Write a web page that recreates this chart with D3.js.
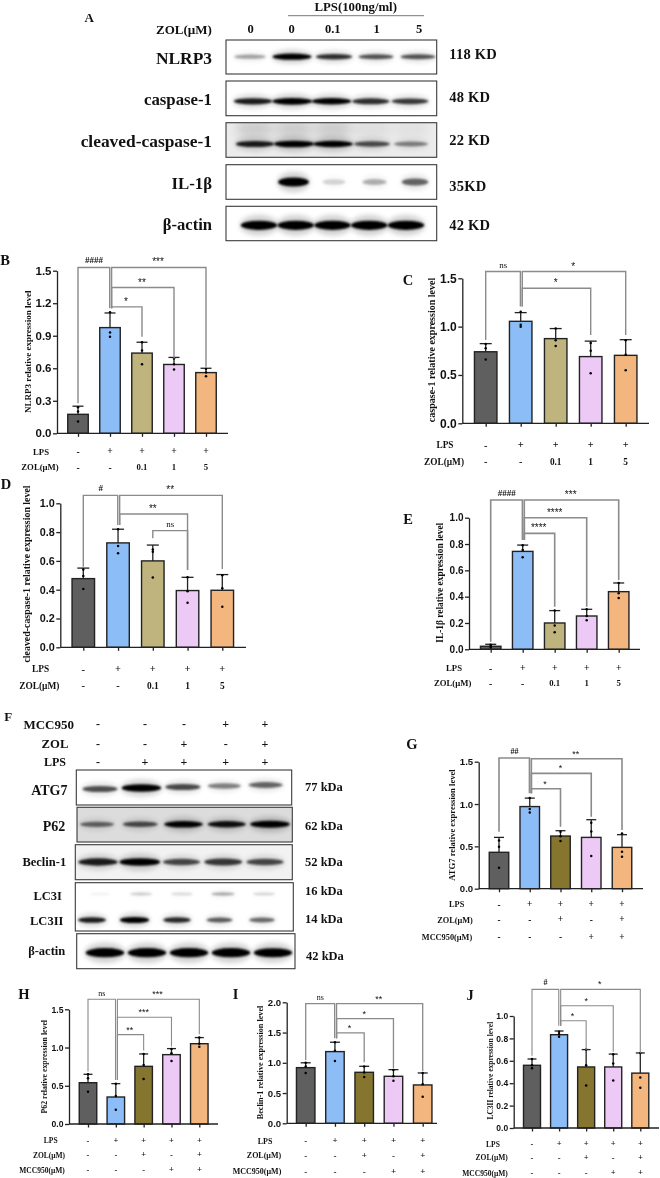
<!DOCTYPE html>
<html><head><meta charset="utf-8">
<script src="https://cdnjs.cloudflare.com/ajax/libs/d3/7.8.5/d3.min.js"></script>
<style>
html,body{margin:0;padding:0;background:#fff}
svg{display:block;filter:blur(0.35px)}
text{fill:#111}
</style></head><body><div id="c"></div>
<script>
// ---------- DATA ----------
const barColorsA = ["#5f5f5f","#8dbdf6","#bfb47d","#edc9f6","#f2b67e"];
const barColorsB = ["#5f5f5f","#8dbdf6","#85752f","#edc9f6","#f2b67e"];
const lpsSigns = ["-","+","+","+","+"];
const zolDoses = ["-","-","0.1","1","5"];
const zolSigns = ["-","-","+","-","+"];
const mccSigns = ["-","-","-","+","+"];

const bMeans=[.175,.975,.74,.635,.56], bTops=[.25,1.11,.84,.70,.60];
const bDots=[[.108,.2,.24],[.89,.93,1.117],[.637,.763,.84],[.588,.637,.69],[.526,.56,.594]];
const bBrackets=[[1,4,1.53,1.154,.615,"***"],[1,3,1.345,1.154,.69,"**"],[1,2,1.166,1.154,.89,"*"],[0,1,1.53,.277,1.154,"####"]];
const cMeans=[.74,1.055,.876,.69,.703], cTops=[.824,1.145,.98,.85,.865];
const cDots=[[.66,.776,.82],[1.0,1.02,1.155],[.80,.86,.98],[.517,.75,.83],[.55,.71,.86]];
const cBrackets=[[1,4,1.57,1.207,.914,"*"],[1,3,1.397,1.207,.914,"*"],[0,1,1.57,.862,1.207,"ns"]];
const dMeans=[.477,.725,.60,.394,.396], dTops=[.55,.82,.71,.486,.505];
const dDots=[[.405,.495,.54],[.653,.704,.82],[.484,.664,.68],[.31,.39,.486],[.282,.41,.5]];
const dBrackets=[[1,4,1.055,.85,.544,"**"],[1,3,.926,.85,.537,"**"],[2,3,.81,.757,.537,"ns"],[0,1,1.055,.56,.85,"#"]];
const eMeans=[.023,.744,.2,.253,.438], eTops=[.038,.792,.294,.304,.504];
const eDots=[[.013,.025,.035],[.70,.754,.79],[.13,.18,.294],[.22,.253,.304],[.39,.425,.504]];
const eBrackets=[[1,4,1.134,.83,.527,"***"],[1,3,1.0,.83,.324,"****"],[1,2,.881,.83,.324,"****"],[0,1,1.134,.058,.83,"####"]];
const gMeans=[.43,.97,.622,.606,.488], gTops=[.606,1.07,.685,.815,.638];
const gDots=[[.248,.496,.57],[.90,.94,1.07],[.563,.62,.673],[.386,.677,.78],[.378,.437,.653]];
const gBrackets=[[1,4,1.535,1.126,.693,"**"],[1,3,1.362,1.126,.85,"*"],[1,2,1.181,1.126,.732,"*"],[0,1,1.543,.673,1.126,"##"]];
const hMeans=[.54,.353,.754,.907,1.05], hTops=[.65,.528,.916,.986,1.13];
const hDots=[[.423,.597,.65],[.187,.366,.528],[.589,.772,.916],[.824,.925,.98],[1.01,1.05,1.13]];
const hBrackets=[[1,4,1.631,.576,1.173,"***"],[1,3,1.396,.576,1.012,"***"],[1,2,1.169,.576,.96,"**"],[0,1,1.631,.685,.576,"ns"]];
const iMeans=[.92,1.185,.843,.777,.634], iTops=[1.0,1.34,.942,.887,.832];
const iDots=[[.83,.937,1.0],[1.03,1.2,1.34],[.766,.84,.94],[.705,.777,.88],[.44,.645,.83]];
const iBrackets=[[1,4,1.978,1.405,.865,"**"],[1,3,1.73,1.405,.909,"*"],[1,2,1.493,1.405,1.008,"*"],[0,1,1.978,1.047,1.405,"ns"]];
const jMeans=[.56,.833,.545,.545,.49], jTops=[.616,.866,.70,.66,.67];
const jDots=[[.533,.56,.616],[.815,.836,.86],[.38,.56,.70],[.425,.577,.658],[.36,.45,.67]];
const jBrackets=[[1,4,1.238,.914,.667,"*"],[1,3,1.092,.914,.68,"*"],[1,2,.958,.914,.696,"*"],[0,1,1.238,.646,.914,"#"]];

// blot band intensities (0-1), lane by lane
const nlrp3Bands=[.3,.95,.72,.58,.58], caspBands=[.8,.95,.9,.72,.68], cleavedBands=[.8,.95,.92,.6,.4], cleavedUpper=[.16,.16,.16,.07,.05];
const il1bBands=[0,1,.14,.26,.52], actinBandsA=[1,1,1,1,1];
const atg7Bands=[.6,1,.62,.42,.52], p62Bands=[.5,.6,.92,.85,1], beclinBands=[.8,.92,.62,.68,.62];
const lc3iBands=[.04,.16,.12,.3,.14], lc3iiBands=[.8,.95,.75,.55,.5], actinBandsF=[1,1,1,1,.98];

const ticks15=[0,.3,.6,.9,1.2,1.5], ticks05=[0,.5,1,1.5], ticks02=[0,.2,.4,.6,.8,1], ticks2=[0,.5,1,1.5,2];

// ---------- LAYOUT ----------
const SERIF="'Liberation Serif','Times New Roman',serif", SANS="'Liberation Sans',Arial,sans-serif";
const svg=d3.select("#c").append("svg").attr("width",660).attr("height",1178).attr("viewBox","0 0 660 1178");
svg.append("rect").attr("width",660).attr("height",1178).attr("fill","#fff");
const defs=svg.append("defs");
[["b1",1.1],["b2",2.6],["b3",6]].forEach(([id,s])=>defs.append("filter").attr("id",id).attr("x","-30%").attr("y","-200%").attr("width","160%").attr("height","500%")
  .append("feGaussianBlur").attr("stdDeviation",s));

function txt(g,x,y,s,size,opt={}){
  return g.append("text").attr("x",x).attr("y",y).text(s)
    .attr("font-family",opt.sans?SANS:SERIF).attr("font-weight",opt.normal?400:700).attr("font-size",size)
    .attr("text-anchor",opt.anchor||"middle").attr("dominant-baseline",opt.base||"central")
    .attr("fill",opt.fill||"#111").attr("letter-spacing",opt.ls||null);
}

// ---------- BAR PANELS ----------
function barPanel(p){
  const g=svg.append("g");
  const lanes=d3.range(5);
  const x=d3.scalePoint().domain(lanes).range([p.x0,p.x4]);
  const y=d3.scaleLinear().domain([0,p.yMax]).range([p.y0,p.yTop]);
  lanes.forEach(i=>{
    g.append("rect").attr("x",x(i)-p.bw/2).attr("width",p.bw).attr("y",y(p.means[i])).attr("height",y(0)-y(p.means[i]))
      .attr("fill",p.colors[i]).attr("stroke","#222").attr("stroke-width",1.4);
    g.append("line").attr("x1",x(i)).attr("x2",x(i)).attr("y1",y(p.means[i])).attr("y2",y(p.tops[i])).attr("stroke","#222").attr("stroke-width",1.3);
    g.append("line").attr("x1",x(i)-p.cap).attr("x2",x(i)+p.cap).attr("y1",y(p.tops[i])).attr("y2",y(p.tops[i])).attr("stroke","#222").attr("stroke-width",1.3);
    p.dots[i].forEach(v=>g.append("circle").attr("cx",x(i)).attr("cy",y(v)).attr("r",1.25).attr("fill","#000"));
  });
  // significance brackets
  p.brackets.forEach(([a,b,lv,ea,eb,lab])=>{
    const xa=x(a)+(a===1?1.6:0), xb=x(b)-(b===1?.3:0);
    g.append("path").attr("fill","none").attr("stroke","#8b8b8b").attr("stroke-width",p.bs||1.4)
      .attr("d",d3.line()([[xa,y(ea)],[xa,y(lv)],[xb,y(lv)],[xb,y(eb)]]));
    const star=lab[0]==="*";
    const gap=star?2:(lab==="ns"?3.5:4.5);
    txt(g,(x(a)+x(b))/2,y(lv)-gap,lab,star?p.sig+1:p.sig,{base:"alphabetic",fill:"#666",sans:star,normal:lab==="ns"||star});
  });
  // axes
  const ya=d3.axisLeft(y).tickValues(p.ticks).tickFormat(d3.format(".1f")).tickSize(4).tickSizeOuter(0);
  const yg=g.append("g").attr("transform",`translate(${p.ax},0)`).call(ya);
  const xa=d3.axisBottom(x).tickFormat("").tickSize(3.5).tickSizeOuter(0);
  const xg=g.append("g").attr("transform",`translate(0,${p.y0})`).call(xa);
  xg.select(".domain").attr("d",`M${p.ax},0H${p.xEnd}`);
  [yg,xg].forEach(a=>{a.selectAll("path,line").attr("stroke","#222").attr("stroke-width",1.3);});
  yg.selectAll("text").attr("font-family",SANS).attr("font-weight",700).attr("font-size",p.tick).attr("fill","#1a1a1a").attr("x",-5.5);
  // y title
  g.append("text").attr("transform",`translate(${p.titleX},${p.titleY}) rotate(-90)`).text(p.title)
    .attr("font-family",SERIF).attr("font-weight",700).attr("font-size",p.titleSize).attr("text-anchor","middle").attr("dominant-baseline","central").attr("fill","#222");
  // treatment rows
  p.rows.forEach(r=>{
    txt(g,r.lx,r.y,r.label,p.rowSize);
    r.signs.forEach((s,i)=>txt(g,x(i),r.y-(s==="+"?.8:0),s,p.rowSize+(s==="+"||s==="-"?1:0),{anchor:"middle"}));
  });
  txt(g,p.letter[0],p.letter[1],p.letter[2],14.5);
}

const panelB={means:bMeans,tops:bTops,dots:bDots,brackets:bBrackets,colors:barColorsA,ticks:ticks15,yMax:1.5,x0:78,x4:206,ax:57,xEnd:228,y0:433.3,yTop:270.7,bw:20.5,cap:5.5,tick:11.5,sig:9,
 title:"NLRP3 relative expression level",titleX:28,titleY:351.7,titleSize:9,rowSize:8.7,letter:[5,260,"B"],
 rows:[{label:"LPS",lx:41,y:451.7,signs:lpsSigns},{label:"ZOL(µM)",lx:40,y:467,signs:zolDoses}]};
const panelC={means:cMeans,tops:cTops,dots:cDots,brackets:cBrackets,colors:barColorsA,ticks:ticks05,yMax:1.5,x0:485.7,x4:625.7,ax:462.3,xEnd:649,y0:423.3,yTop:278.3,bw:22.5,cap:6,tick:12,sig:9,
 title:"caspase-1 relative expression level",titleX:431.7,titleY:350,titleSize:10,rowSize:9.3,letter:[408,280,"C"],
 rows:[{label:"LPS",lx:445,y:445,signs:lpsSigns},{label:"ZOL(µM)",lx:444,y:461.7,signs:zolDoses}]};
const panelD={means:dMeans,tops:dTops,dots:dDots,brackets:dBrackets,colors:barColorsA,ticks:ticks02,yMax:1,x0:83.3,x4:222.3,ax:60.3,xEnd:246,y0:647.3,yTop:503.3,bw:22.5,cap:6,tick:10.8,sig:9,
 title:"cleaved-caspase-1 relative expression level",titleX:26.7,titleY:574,titleSize:9.9,rowSize:9.4,letter:[6,484,"D"],
 rows:[{label:"LPS",lx:40.7,y:669,signs:lpsSigns},{label:"ZOL(µM)",lx:39.3,y:685.7,signs:zolDoses}]};
const panelE={means:eMeans,tops:eTops,dots:eDots,brackets:eBrackets,colors:barColorsA,ticks:ticks02,yMax:1,x0:490.7,x4:618.7,ax:469,xEnd:640,y0:649.3,yTop:517.7,bw:20.5,cap:5.5,tick:10,sig:9,bs:1.6,
 title:"IL-1β relative expression level",titleX:440,titleY:582.8,titleSize:9.4,rowSize:8.7,letter:[408,519,"E"],
 rows:[{label:"LPS",lx:454,y:668,signs:lpsSigns},{label:"ZOL(µM)",lx:452.7,y:683,signs:zolDoses}]};
const panelG={means:gMeans,tops:gTops,dots:gDots,brackets:gBrackets,colors:barColorsB,ticks:ticks05,yMax:1.5,x0:499,x4:622,ax:478.7,xEnd:643,y0:888.7,yTop:761.7,bw:19.5,cap:5,tick:9.6,sig:8,bs:1.6,
 title:"ATG7 relative expression level",titleX:451.7,titleY:825,titleSize:8.6,rowSize:8.3,letter:[412,744,"G"],
 rows:[{label:"LPS",lx:456.7,y:904.7,signs:lpsSigns},{label:"ZOL(µM)",lx:455,y:920,signs:zolSigns},{label:"MCC950(µM)",lx:447,y:937.3,signs:mccSigns}]};
const panelH={means:hMeans,tops:hTops,dots:hDots,brackets:hBrackets,colors:barColorsB,ticks:ticks05,yMax:1.5,x0:88,x4:199.3,ax:69,xEnd:218,y0:1124,yTop:1009.3,bw:17.5,cap:4.5,tick:8.6,sig:8,bs:1.1,
 title:"P62 relative expression level",titleX:44.3,titleY:1066.7,titleSize:7.8,rowSize:7.5,letter:[24,994,"H"],
 rows:[{label:"LPS",lx:50.7,y:1140.7,signs:lpsSigns},{label:"ZOL(µM)",lx:49,y:1155,signs:zolSigns},{label:"MCC950(µM)",lx:42,y:1170,signs:mccSigns}]};
const panelI={means:iMeans,tops:iTops,dots:iDots,brackets:iBrackets,colors:barColorsB,ticks:ticks2,yMax:2,x0:305.7,x4:422.7,ax:286.7,xEnd:437,y0:1123.3,yTop:1002.3,bw:18.5,cap:5,tick:9.6,sig:8,bs:1.3,
 title:"Beclin-1 relative expression level",titleX:260,titleY:1062.5,titleSize:8.2,rowSize:8,letter:[235.7,994,"I"],
 rows:[{label:"LPS",lx:265,y:1141,signs:lpsSigns},{label:"ZOL(µM)",lx:264,y:1155.7,signs:zolSigns},{label:"MCC950(µM)",lx:257,y:1171.7,signs:mccSigns}]};
const panelJ={means:jMeans,tops:jTops,dots:jDots,brackets:jBrackets,colors:barColorsB,ticks:ticks02,yMax:1,x0:532,x4:640.3,ax:513.7,xEnd:659,y0:1128,yTop:1016,bw:17,cap:4.5,tick:8.5,sig:8,bs:1.1,
 title:"LC3II relative expression level",titleX:490,titleY:1070.7,titleSize:7.5,rowSize:7.5,letter:[470,995,"J"],
 rows:[{label:"LPS",lx:493,y:1144,signs:lpsSigns},{label:"ZOL(µM)",lx:491.7,y:1157.7,signs:zolSigns},{label:"MCC950(µM)",lx:485,y:1173,signs:mccSigns}]};
[panelB,panelC,panelD,panelE,panelG,panelH,panelI,panelJ].forEach(barPanel);

// ---------- BLOTS ----------
let clipId=0;
function blot(b){
  const g=svg.append("g");
  const id="cl"+(clipId++);
  defs.append("clipPath").attr("id",id).append("rect").attr("x",b.x0).attr("y",b.y0).attr("width",b.x1-b.x0).attr("height",b.y1-b.y0);
  const inner=g.append("g").attr("clip-path",`url(#${id})`);
  inner.append("rect").attr("x",b.x0).attr("y",b.y0).attr("width",b.x1-b.x0).attr("height",b.y1-b.y0).attr("fill",b.bg||"#fff");
  const op=d3.scaleLinear().domain([0,1]).range([0,1]);
  (b.smears||[]).forEach(s=>{const x=d3.scalePoint().domain(d3.range(5)).range(b.lanes);s.vals.forEach((v,i)=>{
    inner.append("rect").attr("x",x(i)-s.w/2).attr("y",s.y-s.h/2).attr("width",s.w).attr("height",s.h).attr("fill","#000").attr("opacity",op(v)).attr("filter","url(#b3)");
  });});
  b.rows.forEach(r=>{const x=d3.scalePoint().domain(d3.range(5)).range(r.lanes||b.lanes);r.vals.forEach((v,i)=>{
    if(!v) return;
    const w=b.w*(.78+.32*v), h=r.h*(.6+.55*v), yy=r.y+(r.drift?r.drift*(i-2):0);
    inner.append("ellipse").attr("cx",x(i)).attr("cy",yy).attr("rx",w/2+1).attr("ry",h+1).attr("fill","#000").attr("opacity",op(v)*.18).attr("filter","url(#b2)");
    inner.append("ellipse").attr("cx",x(i)).attr("cy",yy).attr("rx",w/2).attr("ry",h/2).attr("fill","#000").attr("opacity",Math.min(1,op(v)*1.1)).attr("filter","url(#b1)");
  });});
  g.append("rect").attr("x",b.x0).attr("y",b.y0).attr("width",b.x1-b.x0).attr("height",b.y1-b.y0).attr("fill","none").attr("stroke","#3a3a3a").attr("stroke-width",1.1);
}
blot({x0:226,x1:436.7,y0:40,y1:74,lanes:[250,418],w:36,rows:[{y:56.7,h:5.5,vals:nlrp3Bands}]});
blot({x0:226,x1:436.7,y0:81,y1:115.7,lanes:[253,410],w:37,rows:[{y:101.3,h:6,vals:caspBands}]});
blot({x0:226,x1:436.7,y0:122.7,y1:157.3,lanes:[255,411],w:37,bg:"#ececec",rows:[{y:144,h:6,vals:cleavedBands}],smears:[{y:129,h:14,w:34,vals:cleavedUpper}]});
blot({x0:226,x1:436.7,y0:164.7,y1:199.3,lanes:[253,415],w:28,rows:[{y:182,h:8,vals:il1bBands}]});
blot({x0:226,x1:436.7,y0:206.3,y1:240.7,lanes:[259,406],w:33,rows:[{y:225.3,h:8,vals:actinBandsA}]});
blot({x0:76.3,x1:291.7,y0:770,y1:805,lanes:[100,265.7],w:36,rows:[{y:787,h:6.5,drift:-1,vals:atg7Bands}]});
blot({x0:77,x1:292.3,y0:807.3,y1:842,lanes:[97,270],w:36,bg:"#dcdcdc",rows:[{y:824.3,h:6,vals:p62Bands}]});
blot({x0:75.3,x1:292.3,y0:844.7,y1:879.7,lanes:[98,265],w:38,bg:"#f2f2f2",rows:[{y:862,h:7,vals:beclinBands}]});
blot({x0:75.3,x1:293.3,y0:882.7,y1:931,lanes:[92,262],w:27,rows:[{y:894,h:4,lanes:[100,264],vals:lc3iBands},{y:920,h:5.5,vals:lc3iiBands}]});
blot({x0:76.7,x1:295,y0:933.7,y1:968.7,lanes:[105,273],w:35,rows:[{y:952.7,h:8,vals:actinBandsF}]});

// ---------- BLOT TEXT ----------
const T=svg.append("g");
[["NLRP3",58,17.4],["caspase-1",99.3,16.8],["cleaved-caspase-1",140.7,17.4],["IL-1β",183.3,16.8],["β-actin",224,16.6]].forEach(([s,y,f])=>txt(T,212,y,s,f,{anchor:"end"}));
[["118 KD",54],["48 KD",96.7],["22 KD",140],["35KD",186],["42 KD",224.7]].forEach(([s,y])=>txt(T,449.3,y,s,14.5,{anchor:"start",ls:".2px"}));
const laneLabelsA=["0","0","0.1","1","5"], laneXA=[250.7,291.7,332.7,376.7,419];
laneLabelsA.forEach((s,i)=>txt(T,laneXA[i],29,s,12.5));
txt(T,184,29,"ZOL(µM)",13);
txt(T,355.7,7.2,"LPS(100ng/ml)",12.8);
T.append("line").attr("x1",288).attr("x2",424).attr("y1",15.7).attr("y2",15.7).attr("stroke","#555").attr("stroke-width",.8);
txt(T,89.3,17.3,"A",13);
txt(T,8.3,716.7,"F",13);
txt(T,48.7,724,"MCC950",13);
txt(T,55,744,"ZOL",12.7); txt(T,55,762.3,"LPS",12);
const fX=[98,145,184,225.7,265];
[[mccSigns,724],[zolSigns,744],[["-","+","+","+","+"],762.3]].forEach(([arr,y])=>arr.forEach((s,i)=>txt(T,fX[i],y-(s==="+"?.5:0),s,12)));
[["ATG7",49.3,790,14],["P62",54,826,14],["Beclin-1",44.3,861.7,12.5],["LC3I",47.7,895.7,12.5],["LC3II",46.7,921,12.5],["β-actin",46.7,950.7,12.5]].forEach(([s,x,y,f])=>txt(T,x,y,s,f));
[["77 kDa",786.7],["62 kDa",826],["52 kDa",861.7],["16 kDa",891],["14 kDa",919],["42 kDa",955.7]].forEach(([s,y])=>txt(T,s==="42 kDa"?306:305,y,s,12.5,{anchor:"start"}));
</script></body></html>
